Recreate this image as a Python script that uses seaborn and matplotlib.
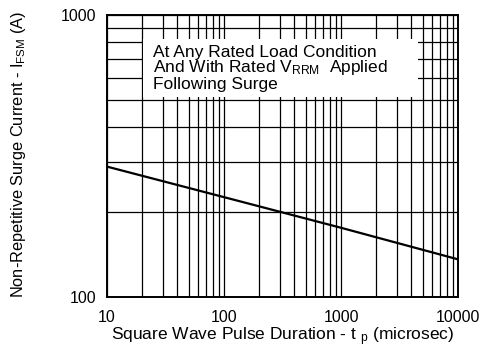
import numpy as np
import pandas as pd
import matplotlib
matplotlib.use("Agg")
import matplotlib.pyplot as plt
import seaborn as sns
from matplotlib.ticker import FixedLocator, NullFormatter, FixedFormatter, LogLocator
from matplotlib.patches import Rectangle

pulse_us = [10, 100, 1000, 10000]
surge_a = [290, 226, 176, 136]
x_ticks = [10, 100, 1000, 10000]
x_tick_labels = ["10", "100", "1000", "10000"]
y_ticks = [100, 1000]
y_tick_labels = ["100", "1000"]

sns.set_theme(style="white")
plt.rcParams['font.family'] = ['Liberation Sans', 'DejaVu Sans']
plt.rcParams['mathtext.fontset'] = 'custom'
plt.rcParams['mathtext.rm'] = 'Liberation Sans'
plt.rcParams['mathtext.it'] = 'Liberation Sans'

df = pd.DataFrame({"t": pulse_us, "i": surge_a})

fig = plt.figure(figsize=(4.83, 3.51), dpi=100)
ax = fig.add_axes([107/483, 1-297/351, (458-107)/483, (297-15)/351])
ax.set_xscale("log")
ax.set_yscale("log")
sns.lineplot(data=df, x="t", y="i", ax=ax, color="black", linewidth=1.6, zorder=3)
ax.set_xlim(10, 10000)
ax.set_ylim(100, 1000)

ax.xaxis.set_major_locator(FixedLocator(x_ticks))
ax.xaxis.set_major_formatter(FixedFormatter(x_tick_labels))
ax.yaxis.set_major_locator(FixedLocator(y_ticks))
ax.yaxis.set_major_formatter(FixedFormatter(y_tick_labels))
ax.xaxis.set_minor_locator(LogLocator(base=10, subs=np.arange(2, 10)))
ax.yaxis.set_minor_locator(LogLocator(base=10, subs=np.arange(2, 10)))
ax.xaxis.set_minor_formatter(NullFormatter())
ax.yaxis.set_minor_formatter(NullFormatter())
ax.grid(True, which="both", color="black", linewidth=0.9)
ax.tick_params(which="both", length=0, labelsize=11.5, colors="black")
ax.tick_params(axis="x", pad=9)
ax.tick_params(axis="y", pad=8)
for s in ax.spines.values():
    s.set_color("black")
    s.set_linewidth(1.4)

ax.set_xlabel(r"Square Wave Pulse Duration - t $_{\mathrm{p}}$ (microsec)", fontsize=12.5, color="black")
ax.xaxis.set_label_coords(0.5, -0.1)
ax.set_ylabel(r"Non-Repetitive Surge Current - I$_{\mathrm{FSM}}$ (A)", fontsize=11.8, color="black")
ax.yaxis.set_label_coords(-0.225, 0.505)

ax.add_patch(Rectangle((0.1026, 0.709), 0.783, 0.206, transform=ax.transAxes,
                       facecolor="white", edgecolor="none", zorder=4))
ax.text(0.131, 0.895, "At Any Rated Load Condition\nAnd With Rated V$_{\\mathrm{RRM}}$  Applied\nFollowing Surge",
        transform=ax.transAxes, fontsize=12.5, va="top", ha="left", color="black", linespacing=0.92,
        zorder=5)

fig.savefig("out.png", dpi=100)
